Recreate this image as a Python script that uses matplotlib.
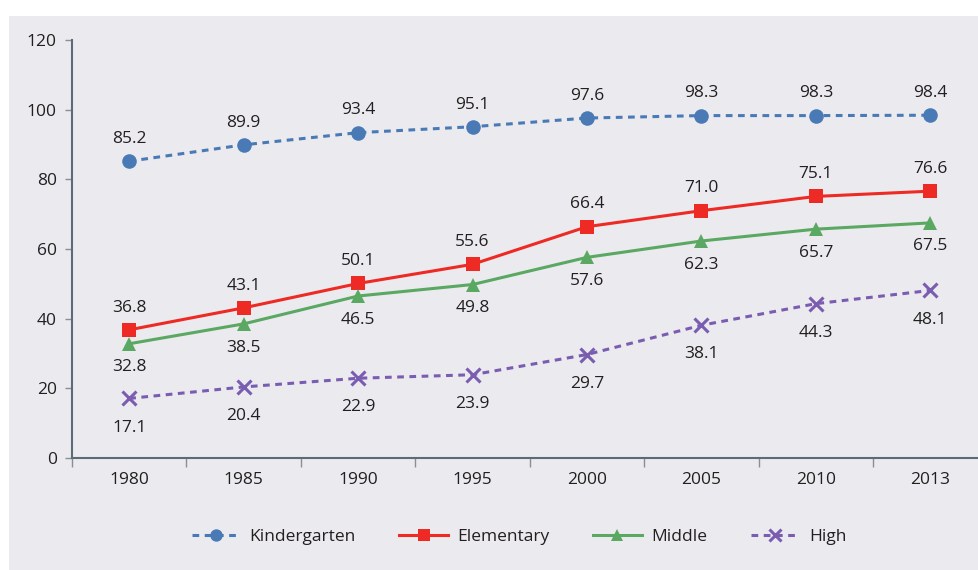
import numpy as np
import matplotlib
matplotlib.use('Agg')
import matplotlib.pyplot as plt
from matplotlib.patches import Rectangle

# --- Data ---
years = ['1980', '1985', '1990', '1995', '2000', '2005', '2010', '2013']
kindergarten = [85.2, 89.9, 93.4, 95.1, 97.6, 98.3, 98.3, 98.4]
elementary = [36.8, 43.1, 50.1, 55.6, 66.4, 71.0, 75.1, 76.6]
middle = [32.8, 38.5, 46.5, 49.8, 57.6, 62.3, 65.7, 67.5]
high = [17.1, 20.4, 22.9, 23.9, 29.7, 38.1, 44.3, 48.1]

# --- Style ---
plt.rcParams['font.family'] = ['Open Sans', 'DejaVu Sans']
TEXT = '#231f20'
BG = '#ebebef'
AXIS = '#5d6b79'
FS = 12.5

fig = plt.figure(figsize=(9.79, 5.70), dpi=100)
fig.patch.set_facecolor('white')
# gray panel behind the chart
fig.patches.append(Rectangle((9 / 979, 0), 1, 1 - 16 / 570, transform=fig.transFigure,
                             facecolor=BG, edgecolor='none', zorder=-10))

ax = fig.add_axes([72 / 979, 1 - 458 / 570, 1 - 72 / 979, 418 / 570])
ax.set_facecolor('none')

x = np.arange(len(years))
# name, values, colour, marker, linestyle, marker size, label offset (pt)
series = [
    ('Kindergarten', kindergarten, '#4a7ab5', 'o', (0, (2.2, 1.8)), 10.5, 16),
    ('Elementary', elementary, '#ee2a24', 's', '-', 10.5, 16),
    ('Middle', middle, '#5aa862', '^', '-', 10.5, -17),
    ('High', high, '#7a5cb0', 'x', (0, (2.2, 1.8)), 10.5, -21),
]

for name, vals, col, mk, ls, ms, off in series:
    kw = dict(markeredgewidth=2.2) if mk == 'x' else dict(markeredgewidth=0)
    ax.plot(x, vals, color=col, linestyle=ls, linewidth=2.2, marker=mk,
            markersize=ms, markerfacecolor=col, markeredgecolor=col, label=name, **kw)
    for xi, v in zip(x, vals):
        ax.annotate(f'{v:.1f}', (xi, v), xytext=(0, off), textcoords='offset points',
                    ha='center', va='center', fontsize=FS, color=TEXT)

# --- Axes ---
ax.set_ylim(0, 120)
ax.set_yticks(np.arange(0, 121, 20))
ax.set_xlim(-0.5, 6.5 + (979 - 873) / 114.5)
ax.set_xticks(x)
ax.set_xticklabels(years)
ax.set_xticks(np.arange(-0.5, 7, 1), minor=True)

for s in ['top', 'right']:
    ax.spines[s].set_visible(False)
for s in ['left', 'bottom']:
    ax.spines[s].set_color(AXIS)
    ax.spines[s].set_linewidth(1.5)

ax.tick_params(axis='y', direction='out', length=5, width=1, color='#8a8f96',
               labelsize=FS, labelcolor=TEXT, pad=6)
ax.tick_params(axis='x', which='major', length=0, labelsize=FS, labelcolor=TEXT, pad=10)
ax.tick_params(axis='x', which='minor', direction='out', length=6.5, width=1, color='#8a8f96')

# --- Legend ---
fig.legend(loc='center', bbox_to_anchor=(0.53, 1 - 537 / 570), ncol=4, frameon=False,
           fontsize=FS, labelcolor=TEXT, handlelength=2.8, columnspacing=2.5,
           handletextpad=0.55, markerscale=0.85)

fig.savefig('out.png', dpi=100, facecolor=fig.get_facecolor())
